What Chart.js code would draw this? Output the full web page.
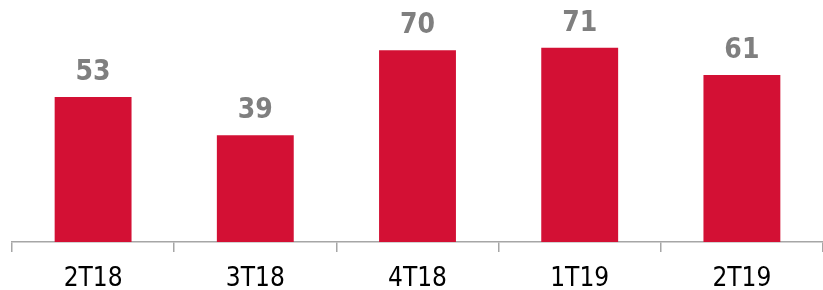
<!DOCTYPE html>
<html>
<head>
<meta charset="utf-8">
<script src="https://cdn.jsdelivr.net/npm/chart.js@4"></script>
<style>
    html, body { margin: 0; padding: 0; background: #ffffff; }
    #wrap { width: 823px; height: 290px; }
</style>
</head>
<body>
<div id="wrap"><canvas id="barChart"></canvas></div>
<script>
// Data
const labels = ["2T18", "3T18", "4T18", "1T19", "2T19"];
const values = [53, 39, 70, 71, 61];

const fontFamily = "'DejaVu Sans Condensed', 'DejaVu Sans', Tahoma, sans-serif";

// plugin kecil untuk menulis nilai di atas batang
const valueLabels = {
    id: 'valueLabels',
    afterDatasetsDraw: function (chart) {
        const ctx = chart.ctx;
        const meta = chart.getDatasetMeta(0);
        ctx.save();
        ctx.fillStyle = '#7f7f7f';
        ctx.font = 'bold 28px ' + fontFamily;
        ctx.textAlign = 'center';
        ctx.textBaseline = 'alphabetic';
        meta.data.forEach(function (bar, i) {
            ctx.fillText(values[i], bar.x, bar.y - 17);
        });
        ctx.restore();
    }
};

const ctx = document.getElementById('barChart').getContext('2d');
new Chart(ctx, {
    type: 'bar',
    data: {
        labels: labels,
        datasets: [{
            data: values,
            backgroundColor: '#d31034',
            borderWidth: 0,
            categoryPercentage: 1,
            barPercentage: 0.474
        }]
    },
    options: {
        responsive: true,
        maintainAspectRatio: false,
        animation: false,
        layout: {
            padding: { left: 12, right: 0, top: 0, bottom: 0 }
        },
        scales: {
            y: {
                display: false,
                min: 0,
                max: 88.4
            },
            x: {
                offset: true,
                // tinggi sumbu x tetap supaya garis sumbu di y=242
                afterFit: function (scale) {
                    scale.height = 48;
                },
                border: { display: true, color: '#a6a6a6', width: 1.5 },
                grid: {
                    offset: true,
                    drawOnChartArea: false,
                    drawTicks: true,
                    tickLength: 10,
                    color: '#a6a6a6',
                    lineWidth: 1.5
                },
                ticks: {
                    color: '#000000',
                    padding: 12,
                    font: { family: fontFamily, size: 26 }
                }
            }
        },
        plugins: {
            legend: { display: false },
            tooltip: { enabled: false }
        }
    },
    plugins: [valueLabels]
});
</script>
</body>
</html>
